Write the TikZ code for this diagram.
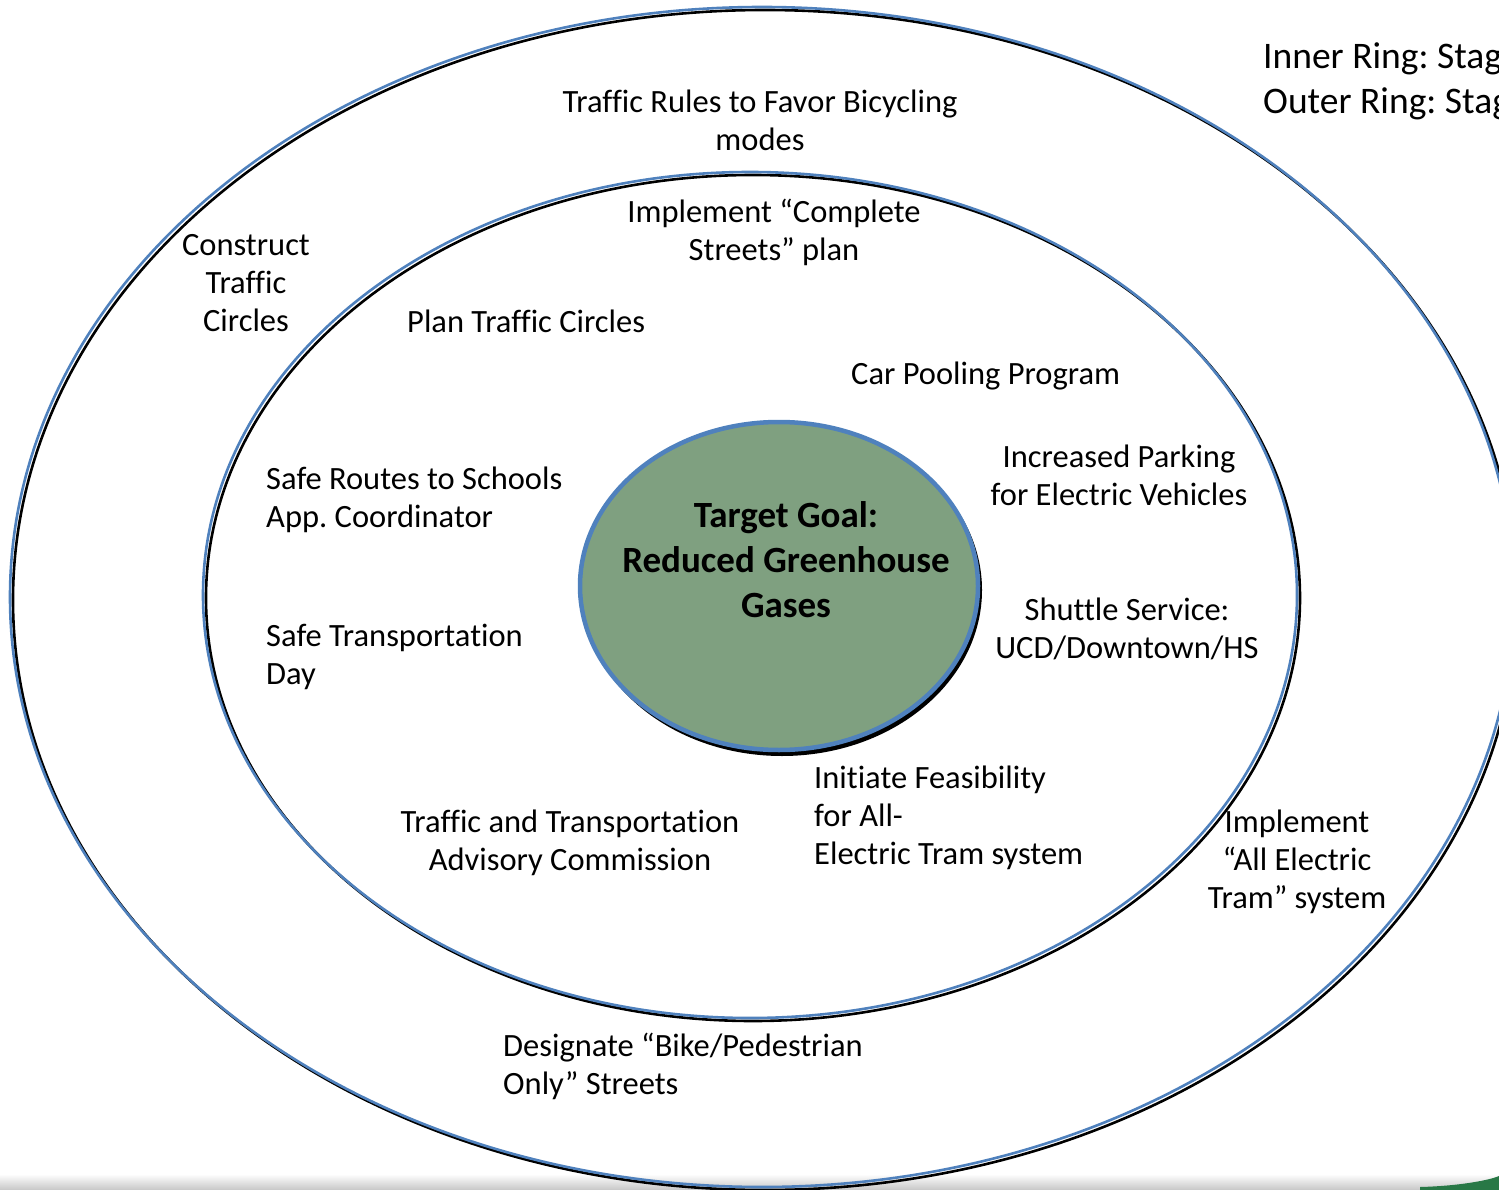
\documentclass[tikz,border=0pt]{standalone}
\usepackage{fontspec}
\setmainfont{Carlito}[Ligatures=NoCommon]
\definecolor{ringblue}{RGB}{79,129,189}
\definecolor{goalgreen}{RGB}{127,160,128}
\definecolor{bandgreen}{RGB}{40,120,70}
\tikzset{
  lbl/.style={inner sep=0pt, font=\fontsize{32.5}{38}\selectfont, text=black},
  goal/.style={inner sep=0pt, font=\fontsize{37}{45}\selectfont\bfseries, text=black, align=center},
  ringline/.style={draw=ringblue, line width=2.6pt},
  shadowline/.style={draw=black, line width=2.6pt},
}
\begin{document}
\frenchspacing
\begin{tikzpicture}[x=1pt,y=-1pt]
\useasboundingbox (0,0) rectangle (1499,1190);
\fill[white] (0,0) rectangle (1499,1190);
% bottom band
\shade[top color=white, bottom color=black!22] (0,1174) rectangle (1499,1190);
\fill[bandgreen] (1420,1187) .. controls (1460,1186) and (1490,1180) .. (1499,1176) -- (1499,1190) -- (1420,1190) -- cycle;
% outer ring
\draw[shadowline] (765,600) ellipse [x radius=752, y radius=590];
\draw[ringline] (762,597) ellipse [x radius=752, y radius=590];
% inner ring
\draw[shadowline] (753,598) ellipse [x radius=547, y radius=423];
\draw[ringline] (750,595) ellipse [x radius=547, y radius=423];
% center goal
\fill[black] (782,590) ellipse [x radius=200, y radius=166];
\filldraw[fill=goalgreen, draw=ringblue, line width=4.5pt] (779,586) ellipse [x radius=199, y radius=164];
\node[goal] (g) at (786,560) {Target Goal:\\Reduced Greenhouse\\Gases};
% labels
\node[lbl, align=center] (a) at (760,120) {Traffic Rules to Favor Bicycling\\modes};
\node[lbl, align=center] (b) at (774,232) {Implement “Complete\\Streets” plan};
\node[lbl, align=center] (c) at (246,283) {Construct\\Traffic\\Circles};
\node[lbl, anchor=west] (d) at (407,321) {Plan Traffic Circles};
\node[lbl, anchor=west] (e) at (851,376) {Car Pooling Program};
\node[lbl, align=center] (f) at (1119,475) {Increased Parking\\for Electric Vehicles};
\node[lbl, align=left, anchor=west] (h) at (266,500) {Safe Routes to Schools\\App. Coordinator};
\node[lbl, align=center] (i) at (1127,629) {Shuttle Service:\\UCD/Downtown/HS};
\node[lbl, align=left, anchor=west] (j) at (266,657) {Safe Transportation\\Day};
\node[lbl, align=left, anchor=west] (k) at (814,818) {Initiate Feasibility\\for All-\\Electric Tram system};
\node[lbl, align=center] (l) at (570,843) {Traffic and Transportation\\Advisory Commission};
\node[lbl, align=center] (m) at (1297,862) {Implement\\“All Electric\\Tram” system};
\node[lbl, align=left, anchor=west] (n) at (503,1066) {Designate “Bike/Pedestrian\\Only” Streets};
\begin{scope}
\clip (0,0) rectangle (1499,1190);
\node[inner sep=0pt, font=\fontsize{37.5}{45}\selectfont, align=left, anchor=west] (o) at (1263,81) {Inner Ring: Stage\\Outer Ring: Stage};
\end{scope}
\end{tikzpicture}
\end{document}
